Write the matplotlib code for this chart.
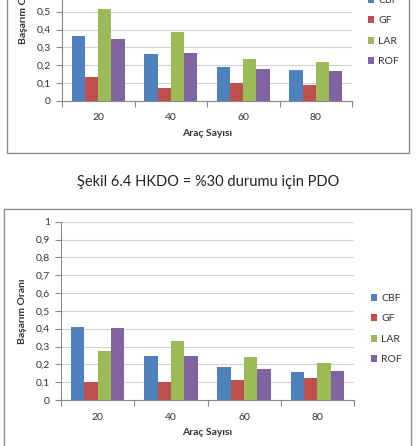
import matplotlib
matplotlib.use("Agg")
import matplotlib.pyplot as plt
from matplotlib.patches import Rectangle
import numpy as np

plt.rcParams['font.family'] = ['Lato', 'DejaVu Sans']

# data
arac_sayisi = ["20", "40", "60", "80"]
series = ["CBF", "GF", "LAR", "ROF"]
colors = ["#4F81BD", "#C0504D", "#9BBB59", "#8064A2"]

# upper chart (cut off at the top of the page)
top_vals = {
    "CBF": [0.366, 0.263, 0.19, 0.175],
    "GF": [0.134, 0.073, 0.099, 0.088],
    "LAR": [0.515, 0.388, 0.235, 0.218],
    "ROF": [0.347, 0.27, 0.179, 0.17],
}
# lower chart
bot_vals = {
    "CBF": [0.411, 0.247, 0.187, 0.159],
    "GF": [0.10, 0.10, 0.114, 0.124],
    "LAR": [0.275, 0.333, 0.24, 0.209],
    "ROF": [0.405, 0.247, 0.176, 0.163],
}
yticks = [0, 0.1, 0.2, 0.3, 0.4, 0.5, 0.6, 0.7, 0.8, 0.9, 1]
ytick_labels = ["0", "0,1", "0,2", "0,3", "0,4", "0,5", "0,6", "0,7", "0,8", "0,9", "1"]
caption = "Şekil 6.4 HKDO = %30 durumu için PDO"

W, H = 416, 446
fig = plt.figure(figsize=(W / 100, H / 100), dpi=100)


def px(x0, y0, x1, y1):
    # pixel box (top-left origin) -> figure rect
    return [x0 / W, 1 - y1 / H, (x1 - x0) / W, (y1 - y0) / H]


def draw_chart(rect, vals, legend_xy):
    ax = fig.add_axes(rect)
    x = np.arange(len(arac_sayisi))
    w = 1 / 5.5
    for i, s in enumerate(series):
        ax.bar(x + (i - 1.5) * w, vals[s], width=w, color=colors[i], label=s, zorder=3)
    ax.set_xlim(-0.5, 3.5)
    ax.set_ylim(0, 1)
    ax.set_yticks(yticks)
    ax.set_yticklabels(ytick_labels)
    ax.set_xticks(np.arange(-0.5, 4, 1))
    ax.set_xticklabels([])
    ax.set_xticks(x, minor=True)
    ax.set_xticklabels(arac_sayisi, minor=True)
    ax.tick_params(axis='x', which='major', length=4, color='#888888')
    ax.tick_params(axis='x', which='minor', length=0, pad=9, labelsize=7.5, labelcolor='#333333')
    ax.tick_params(axis='y', length=4, color='#888888', labelsize=7.5, labelcolor='#333333', pad=4)
    ax.grid(axis='y', color='#D4D4D4', linewidth=0.8, zorder=0)
    for sp in ['top', 'right']:
        ax.spines[sp].set_visible(False)
    for sp in ['left', 'bottom']:
        ax.spines[sp].set_color('#888888')
        ax.spines[sp].set_linewidth(0.8)
    ax.set_xlabel("Araç Sayısı", fontsize=7.5, fontweight='bold', color='#333333', labelpad=5)
    ax.set_ylabel("Başarım Oranı", fontsize=7.5, fontweight='bold', color='#333333', labelpad=6)
    ax.legend(loc='upper left', bbox_to_anchor=(legend_xy[0] / W, 1 - legend_xy[1] / H),
              bbox_transform=fig.transFigure, frameon=False, fontsize=7.5,
              handlelength=0.6, handleheight=0.6, handletextpad=0.4,
              labelspacing=1.1, borderpad=0, borderaxespad=0, labelcolor='#333333')
    return ax


# frames around the two embedded charts
fig.patches.append(Rectangle((7 / W, 1 - 153 / H), 402 / W, 200 / H, transform=fig.transFigure,
                             fill=False, edgecolor='#8C8C8C', linewidth=1))
fig.patches.append(Rectangle((4 / W, -0.1), 407 / W, (0.1 + 1 - 209 / H), transform=fig.transFigure,
                             fill=False, edgecolor='#8C8C8C', linewidth=1))

draw_chart(px(62, 101 - 178.7, 352, 101), top_vals, (368, -4))
draw_chart(px(61, 400 - 178.3, 354, 400), bot_vals, (371, 294))

fig.text(208 / W, 1 - 182 / H, caption, ha='center', va='center', fontsize=10.5, color='#222222')

fig.savefig("out.png", dpi=100)
